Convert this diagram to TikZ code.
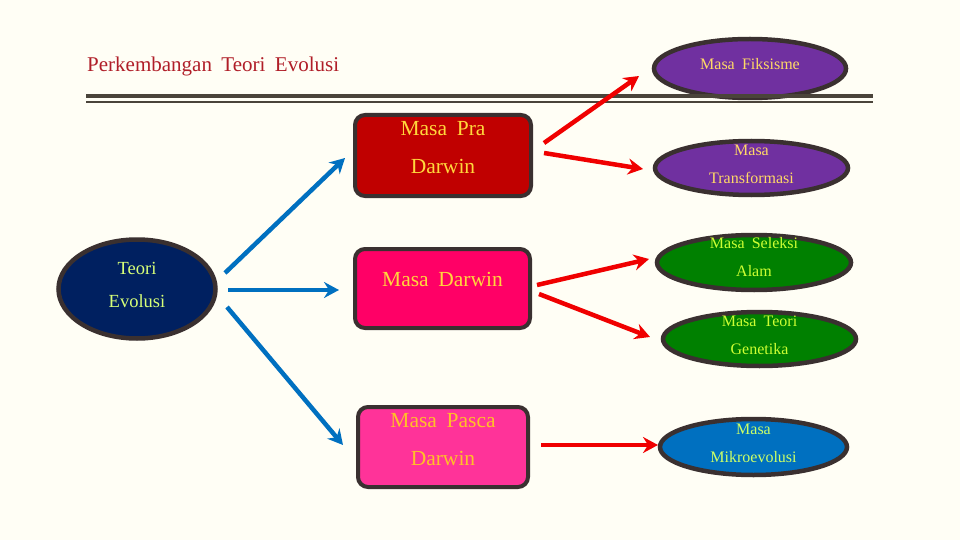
\documentclass[tikz,border=0pt]{standalone}
\usepackage{fontspec}
\setmainfont{Liberation Serif}[WordSpace=1.8]
\usetikzlibrary{shapes.geometric,arrows.meta,calc}
\definecolor{bgc}{RGB}{255,254,245}
\definecolor{titlec}{RGB}{176,30,40}
\definecolor{linec}{RGB}{74,68,58}
\definecolor{bordc}{RGB}{58,48,48}
\definecolor{navy}{RGB}{0,32,96}
\definecolor{limet}{RGB}{215,255,120}
\definecolor{prac}{RGB}{192,0,0}
\definecolor{darc}{RGB}{255,0,102}
\definecolor{pasc}{RGB}{255,51,153}
\definecolor{goldt}{RGB}{255,215,60}
\definecolor{oranget}{RGB}{255,192,40}
\definecolor{purp}{RGB}{112,48,160}
\definecolor{purpt}{RGB}{255,217,102}
\definecolor{grn}{RGB}{0,128,0}
\definecolor{grnt}{RGB}{204,255,51}
\definecolor{blu}{RGB}{0,112,192}
\definecolor{blut}{RGB}{204,255,102}
\definecolor{redc}{RGB}{240,0,0}
\newcommand{\twol}[2]{\smash{\begin{tabular}{@{}c@{}}#1\\#2\end{tabular}}}
\tikzset{
  ell/.style={ellipse, draw=bordc, line width=4.5pt, inner sep=0pt},
  boxn/.style={rectangle, rounded corners=10pt, draw=bordc, line width=4pt, inner sep=0pt},
  bluearr/.style={draw=blu, line width=4.5pt, -{Stealth[length=15pt,width=16pt,inset=5pt]}},
  redarr/.style={draw=redc, line width=4.5pt, -{Stealth[length=15pt,width=16pt,inset=5pt]}},
  etxt/.style={font=\fontsize{16}{28}\selectfont},
  btxt/.style={font=\fontsize{21.5}{38}\selectfont}
}
\begin{document}
\begin{tikzpicture}[x=1pt,y=-1pt]
\fill[bgc] (0,0) rectangle (960,540);
\useasboundingbox (0,0) rectangle (960,540);
% title
\node[anchor=west, text=titlec, font=\fontsize{21}{24}\selectfont, inner sep=0pt] (title) at (87,66) {Perkembangan Teori Evolusi};
% nodes
\node[ell, fill=navy, text=limet, minimum width=157pt, minimum height=99pt,
      font=\fontsize{18.5}{33}\selectfont] (teori) at (137,289) {\twol{Teori}{Evolusi}};
\node[boxn, fill=prac, text=goldt, minimum width=176pt, minimum height=81pt, btxt] (pra) at (443,155.5) {\raisebox{6pt}{\twol{Masa Pra}{Darwin}}};
\node[boxn, fill=darc, text=goldt, minimum width=175pt, minimum height=79pt, btxt] (darwin) at (442.5,288.5) {\raisebox{5pt}{\smash{Masa Darwin}}};
\node[boxn, fill=pasc, text=oranget, minimum width=170pt, minimum height=80pt, btxt] (pasca) at (443,447) {\raisebox{6pt}{\twol{Masa Pasca}{Darwin}}};
\node[ell, fill=purp, text=purpt, minimum width=192pt, minimum height=59pt, etxt] (fik) at (750,68.5) {\raisebox{-3pt}{\smash{Masa Fiksisme}}};
\node[ell, fill=purp, text=purpt, minimum width=193pt, minimum height=54pt, etxt] (tra) at (751.5,168) {\twol{Masa}{Transformasi}};
\node[ell, fill=grn, text=grnt, minimum width=194pt, minimum height=55pt, etxt] (sel) at (754,262.5) {\raisebox{2pt}{\twol{Masa Seleksi}{Alam}}};
\node[ell, fill=grn, text=grnt, minimum width=193pt, minimum height=54pt, etxt] (gen) at (759.5,339) {\twol{Masa Teori}{Genetika}};
\node[ell, fill=blu, text=blut, minimum width=187pt, minimum height=56pt, etxt] (mik) at (753.5,447) {\twol{Masa}{Mikroevolusi}};
% double rule
\draw[linec, line width=4pt] (86,96) -- (873,96);
\draw[linec, line width=2pt] (86,102) -- (873,102);
% blue arrows
\draw[bluearr] ($(teori.center)+(88,-16)$) -- ($(pra.center)+(-98,2.5)$);
\draw[bluearr] ($(teori.center)+(91,1)$) -- ($(darwin.center)+(-103.5,1.5)$);
\draw[bluearr] ($(teori.center)+(90,18)$) -- ($(pasca.center)+(-100,-2)$);
% red arrows
\draw[redarr] ($(pra.center)+(101,-12.5)$) -- ($(fik.center)+(-111,7.5)$);
\draw[redarr] ($(pra.center)+(101,-2.5)$) -- ($(tra.center)+(-108.5,1)$);
\draw[redarr] ($(darwin.center)+(94.5,-3.5)$) -- ($(sel.center)+(-105,-3.5)$);
\draw[redarr] ($(darwin.center)+(96.5,5.5)$) -- ($(gen.center)+(-109.5,-2)$);
\draw[redarr] ($(pasca.center)+(98,-2)$) -- ($(mik.center)+(-95.5,-2)$);
\end{tikzpicture}
\end{document}
